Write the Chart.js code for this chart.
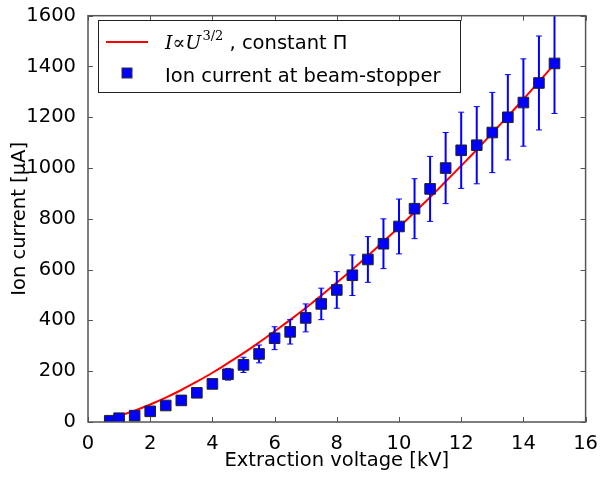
<!DOCTYPE html>
<html>
<head>
<meta charset="utf-8">
<script src="https://cdn.jsdelivr.net/npm/chart.js@4"></script>
<style>
  html, body { margin: 0; padding: 0; background: #fff; }
  #wrap { width: 600px; height: 477px; }
</style>
</head>
<body>
<div id="wrap"><canvas id="chart" width="600" height="477"></canvas></div>
<script>
/* --- data --- */
const voltage = [0.7, 1, 1.5, 2, 2.5, 3, 3.5, 4, 4.5, 5, 5.5, 6, 6.5, 7, 7.5, 8, 8.5, 9, 9.5, 10, 10.5, 11, 11.5, 12, 12.5, 13, 13.5, 14, 14.5, 15];
const current = [5, 15, 25, 42, 65, 85, 115, 150, 188, 225, 268, 330, 355, 410, 465, 520, 578, 640, 702, 770, 840, 918, 1000, 1070, 1090, 1140, 1200, 1258, 1335, 1412];
const currentErr = [2, 4, 6, 8, 10, 12, 14, 16, 23, 30, 35, 45, 48, 55, 62, 72, 80, 90, 98, 108, 118, 128, 140, 150, 152, 158, 168, 172, 185, 197];

/* --- I ∝ U^(3/2) curve, sampled --- */
const curveU = [1, 1.5, 2, 2.5, 3, 3.5, 4, 4.5, 5, 5.5, 6, 6.5, 7, 7.5, 8, 8.5, 9, 9.5, 10, 10.5, 11, 11.5, 12, 12.5, 13, 13.5, 14, 14.5, 15];
const curveI = [24, 45, 69, 96, 126, 159, 194, 232, 271, 313, 357, 402, 449, 498, 549, 601, 655, 711, 767, 826, 885, 947, 1009, 1072, 1138, 1204, 1271, 1340, 1410];

const xTicks = [0, 2, 4, 6, 8, 10, 12, 14, 16];
const yTicks = [0, 200, 400, 600, 800, 1000, 1200, 1400, 1600];

const FONT = "'DejaVu Sans', sans-serif";
const FRAME = "#555";
const FS = 19.5;

/* ------- error bars + frame + legend ------- */
const decorPlugin = {
    id: "decor",
    beforeDatasetDraw(chart, args) {
        if (args.index !== 1) return;
        const ctx = chart.ctx, xs = chart.scales.x, ys = chart.scales.y;
        const a = chart.chartArea;
        ctx.save();
        ctx.beginPath();
        ctx.rect(a.left, a.top, a.right - a.left, a.bottom - a.top);
        ctx.clip();
        ctx.strokeStyle = "#0000ff";
        for (let i = 0; i < voltage.length; i++) {
            const px = xs.getPixelForValue(voltage[i]);
            const y1 = ys.getPixelForValue(current[i] - currentErr[i]);
            const y2 = ys.getPixelForValue(current[i] + currentErr[i]);
            ctx.lineWidth = 2;
            ctx.beginPath();
            ctx.moveTo(px, y1); ctx.lineTo(px, y2);
            ctx.stroke();
            ctx.lineWidth = 1;
            ctx.beginPath();
            ctx.moveTo(px - 3, y1); ctx.lineTo(px + 3, y1);
            ctx.moveTo(px - 3, y2); ctx.lineTo(px + 3, y2);
            ctx.stroke();
        }
        ctx.restore();
    },
    afterDraw(chart) {
        const ctx = chart.ctx, xs = chart.scales.x, ys = chart.scales.y;
        const a = chart.chartArea;
        ctx.save();
        // inward ticks on all four sides
        ctx.strokeStyle = FRAME;
        ctx.lineWidth = 1;
        ctx.beginPath();
        xTicks.forEach(v => {
            const px = Math.round(xs.getPixelForValue(v)) + 0.5;
            ctx.moveTo(px, a.bottom); ctx.lineTo(px, a.bottom - 5);
            ctx.moveTo(px, a.top); ctx.lineTo(px, a.top + 5);
        });
        yTicks.forEach(v => {
            const py = Math.round(ys.getPixelForValue(v)) + 0.5;
            ctx.moveTo(a.left, py); ctx.lineTo(a.left + 5, py);
            ctx.moveTo(a.right, py); ctx.lineTo(a.right - 5, py);
        });
        ctx.stroke();
        // frame
        ctx.lineWidth = 1.5;
        ctx.strokeRect(a.left, a.top, a.right - a.left, a.bottom - a.top);

        // legend
        const lx = 98, ly = 20, lw = 362, lh = 72;
        ctx.fillStyle = "#fff";
        ctx.fillRect(lx, ly, lw, lh);
        ctx.strokeStyle = "#222";
        ctx.lineWidth = 1;
        ctx.strokeRect(lx + 0.5, ly + 0.5, lw, lh);

        ctx.strokeStyle = "#ff0000";
        ctx.lineWidth = 2;
        ctx.beginPath();
        ctx.moveTo(106, 42); ctx.lineTo(148, 42);
        ctx.stroke();

        ctx.fillStyle = "#000";
        ctx.textBaseline = "alphabetic";
        let tx = 165;
        const base1 = 49;
        ctx.font = "italic 19px 'DejaVu Serif', serif";
        ctx.fillText("I", tx, base1); tx += ctx.measureText("I").width;
        ctx.font = "19px 'DejaVu Serif', serif";
        ctx.fillText("\u221D", tx, base1); tx += ctx.measureText("\u221D").width;
        ctx.font = "italic 19px 'DejaVu Serif', serif";
        ctx.fillText("U", tx, base1); tx += ctx.measureText("U").width + 1;
        ctx.font = "13px 'DejaVu Serif', serif";
        ctx.fillText("3/2", tx, base1 - 9); tx += ctx.measureText("3/2").width;
        ctx.font = FS + "px " + FONT;
        ctx.fillText(" , constant \u03A0", tx, base1);

        ctx.fillStyle = "#0000ff";
        ctx.fillRect(122, 68, 10, 10);
        ctx.strokeStyle = "#333";
        ctx.lineWidth = 1;
        ctx.strokeRect(122, 68, 10, 10);
        ctx.fillStyle = "#000";
        ctx.font = FS + "px " + FONT;
        ctx.fillText("Ion current at beam-stopper", 165, 82);
        ctx.restore();
    }
};

new Chart(document.getElementById("chart"), {
    type: "scatter",
    data: {
        datasets: [
            {
                label: "I\u221DU^3/2, constant \u03A0",
                data: curveU.map((u, i) => ({ x: u, y: curveI[i] })),
                showLine: true,
                borderColor: "#ff0000",
                borderWidth: 2,
                pointRadius: 0,
                tension: 0.4,
                order: 2
            },
            {
                label: "Ion current at beam-stopper",
                data: voltage.map((u, i) => ({ x: u, y: current[i] })),
                pointStyle: "rect",
                pointRadius: 7.5,
                backgroundColor: "#0000ff",
                borderColor: "#222",
                borderWidth: 1,
                order: 1
            }
        ]
    },
    options: {
        responsive: false,
        animation: false,
        layout: { padding: { top: 13, right: 14, left: 8, bottom: 0 } },
        plugins: { legend: { display: false }, tooltip: { enabled: false } },
        scales: {
            x: {
                type: "linear", min: 0, max: 16,
                afterBuildTicks: s => { s.ticks = xTicks.map(v => ({ value: v })); },
                afterFit: s => { s.height = 55; },
                grid: { display: false },
                border: { display: false },
                ticks: { color: "#000", font: { family: FONT, size: FS }, padding: 2, maxRotation: 0,
                         callback: v => String(v) },
                title: { display: true, text: "Extraction voltage [kV]", color: "#000",
                         font: { family: FONT, size: FS }, padding: { top: 0, bottom: 4 } }
            },
            y: {
                type: "linear", min: 0, max: 1600,
                afterBuildTicks: s => { s.ticks = yTicks.map(v => ({ value: v })); },
                afterFit: s => { s.width = 80; },
                grid: { display: false },
                border: { display: false },
                ticks: { color: "#000", font: { family: FONT, size: FS }, padding: 4,
                         callback: v => String(v) },
                title: { display: true, text: "Ion current [\u00B5A]", color: "#000",
                         font: { family: FONT, size: FS }, padding: { top: 0, bottom: 0 } }
            }
        }
    },
    plugins: [decorPlugin]
});
</script>
</body>
</html>
